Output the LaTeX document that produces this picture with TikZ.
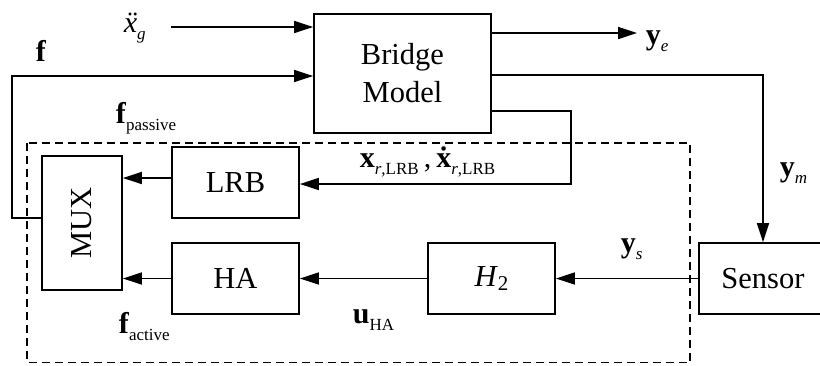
\documentclass[tikz,border=0pt]{standalone}
\usepackage{fontspec}
\setmainfont{Liberation Serif}
\usetikzlibrary{arrows.meta,calc}

% lowered, smaller index text
\newcommand{\lowidx}[1]{\raisebox{-0.25em}{\fontsize{17}{17}\selectfont #1}}

\begin{document}
\begin{tikzpicture}[x=1pt,y=-1pt,line width=1.7pt,
  blk/.style={draw,line width=1.7pt,inner sep=0pt,align=center,
              font=\fontsize{30.5}{38}\selectfont},
  lbl/.style={inner sep=0pt,anchor=base west,font=\fontsize{30}{34}\selectfont},
  sig/.style={-{Triangle[length=19pt,width=12pt]}},
  grp/.style={dash pattern=on 8pt off 5pt,line width=1.7pt}]
\useasboundingbox (0,0) rectangle (820,365);

% controller group
\draw[grp] (27,143) rectangle (690,362.5);

% blocks
\node[blk,minimum width=177pt,minimum height=119pt] (bridge) at (402.5,73.5) {Bridge\\Model};
\node[blk,minimum width=80pt,minimum height=134pt] (mux) at (82,223) {};
\node[inner sep=0pt,rotate=90,font=\fontsize{30.5}{34}\selectfont] (muxtext) at (mux.center) {MUX};
\node[blk,minimum width=127pt,minimum height=71pt] (lrb) at (235.5,182.5) {LRB};
\node[blk,minimum width=127pt,minimum height=71pt] (ha) at (235.5,278.5) {HA};
\node[blk,minimum width=127pt,minimum height=71pt] (h2) at (491.5,278.5)
  {\textit{H}\raisebox{-0.12em}{\fontsize{21}{21}\selectfont 2}};
\node[blk,minimum width=128pt,minimum height=71pt] (sensor) at (763,278.5) {Sensor};

% inputs to the bridge
\coordinate (xg) at (171,27);
\draw[sig] (xg) -- (xg -| bridge.west);
\coordinate (fin) at (12,76);
\draw[sig] ($(mux.west)+(0,-5)$) -| (fin) -- (fin -| bridge.west);

% bridge outputs
\coordinate (ye) at (637,33);
\draw[sig] (ye -| bridge.east) -- (ye);
\draw[sig] ($(bridge.east)+(0,1.5)$) -| (sensor.north);
\coordinate (tap) at (571,111);
\draw[sig] (bridge.east |- tap) -- (tap) |- ($(lrb.east)+(0,1.5)$);

% controller signal flow
\coordinate (lrbout) at ($(lrb.west)+(0,-4.5)$);
\draw[sig] (lrbout) -- (lrbout -| mux.east);
\draw[sig] (ha.west) -- (ha.west -| mux.east);
\draw[sig] (h2.west) -- (ha.east);
\draw[sig] (sensor.west) -- (h2.east);

% signal labels
\node[lbl] (lxg) at (123,32) {\textit{\"x}\lowidx{\textit{g}}};
\node[lbl] (lf) at (35,61) {\textbf{f}};
\node[lbl] (lfp) at (115,123) {\textbf{f}\lowidx{passive}};
\node[lbl] (lye) at (645,44) {\textbf{y}\lowidx{\textit{e}}};
\node[lbl] (lxr) at (359,167) {\textbf{x}\lowidx{\textit{r},LRB}\,,\,\textbf{\.x}\lowidx{\textit{r},LRB}};
\node[lbl] (lym) at (779,176) {\textbf{y}\lowidx{\textit{m}}};
\node[lbl] (lys) at (620,252) {\textbf{y}\lowidx{\textit{s}}};
\node[lbl] (luha) at (352,323) {\textbf{u}\lowidx{HA}};
\node[lbl] (lfa) at (118,333) {\textbf{f}\lowidx{active}};
\end{tikzpicture}
\end{document}
